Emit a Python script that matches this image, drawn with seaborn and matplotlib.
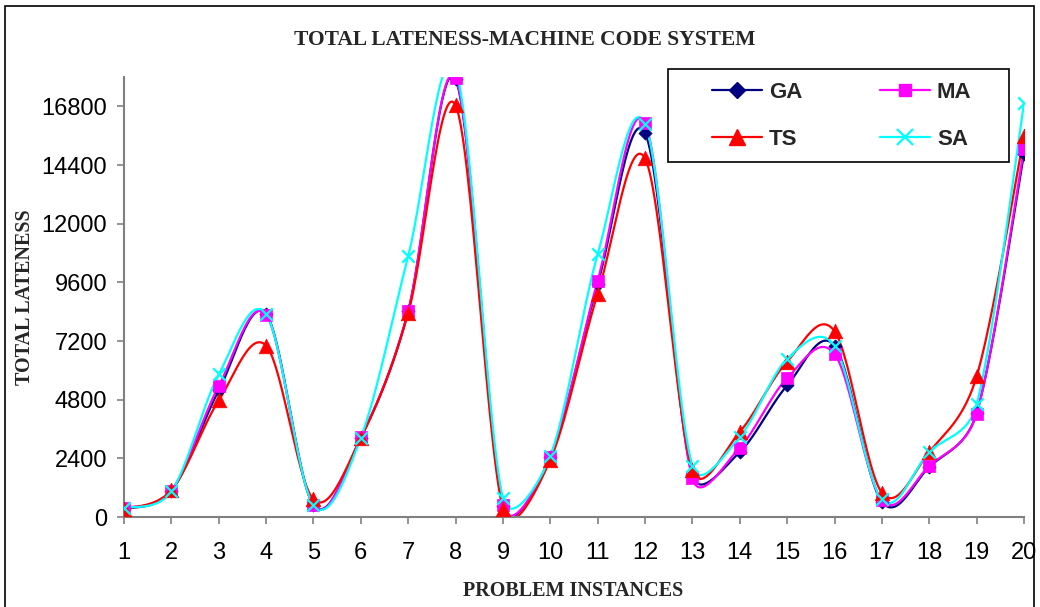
import numpy as np
import pandas as pd
import matplotlib
matplotlib.use("Agg")
import matplotlib.pyplot as plt
from matplotlib.lines import Line2D
from matplotlib.patches import Rectangle
import seaborn as sns

# ---------------- data ----------------
instances = list(range(1, 21))
ga = [330, 1060, 5180, 8300, 500, 3250, 8420, 17900, 450, 2460,
      9540, 15710, 1700, 2660, 5380, 7010, 620, 2050, 4250, 14840]
ma = [370, 1080, 5360, 8280, 480, 3260, 8440, 17950, 490, 2470,
      9670, 16120, 1580, 2840, 5680, 6670, 690, 2090, 4230, 15040]
ts = [330, 1100, 4770, 7010, 720, 3230, 8350, 16840, 330, 2340,
      9130, 14670, 1920, 3480, 6360, 7600, 990, 2660, 5750, 15580]
sa = [370, 1050, 5830, 8300, 490, 3250, 10680, 18300, 770, 2490,
      10750, 16080, 2090, 3280, 6470, 7000, 720, 2660, 4610, 16940]

series_names = ["GA", "MA", "TS", "SA"]
series_vals = [ga, ma, ts, sa]
colors = ["#000080", "#FF00FF", "#FF0000", "#00FFFF"]
markers = ["D", "s", "^", "x"]
msizes = [45, 70, 110, 80]

yticks = [0, 2400, 4800, 7200, 9600, 12000, 14400, 16800]

# plot-area geometry (pixels) used only for the smoothing metric
AX_L, AX_R, AX_T, AX_B = 124, 1024, 77, 517
XMIN, XMAX, YMIN, YMAX = 1, 20, 0, 18000
SX = (AX_R - AX_L) / (XMAX - XMIN)
SY = (AX_B - AX_T) / (YMAX - YMIN)


def smooth(xs, ys, n=30):
    """Excel-like smoothed line: cubic Bezier segments, tangent arm = chord/6,
    capped at half the segment length, computed in screen space."""
    P = np.column_stack([np.asarray(xs, float) * SX, np.asarray(ys, float) * SY])
    P = np.vstack([P[0], P, P[-1]])
    out = []
    t = np.linspace(0, 1, n)[:, None]

    def arm(a, b, seglen):
        v = (b - a) / 6.0
        L = np.linalg.norm(v)
        cap = seglen / 2.0
        if L > cap and L > 0:
            v = v * cap / L
        return v

    for i in range(1, len(P) - 2):
        p0, p1, p2, p3 = P[i - 1], P[i], P[i + 1], P[i + 2]
        l12 = np.linalg.norm(p2 - p1)
        c1 = p1 + arm(p0, p2, l12)
        c2 = p2 - arm(p1, p3, l12)
        seg = ((1 - t) ** 3) * p1 + 3 * ((1 - t) ** 2) * t * c1 + 3 * (1 - t) * t ** 2 * c2 + t ** 3 * p2
        out.append(seg if i == 1 else seg[1:])
    out = np.vstack(out)
    return out[:, 0] / SX, out[:, 1] / SY


sns.set_theme(style="white")
plt.rcParams["font.family"] = ["Liberation Sans", "DejaVu Sans"]

fig = plt.figure(figsize=(10.4, 6.07), dpi=100)
ax = fig.add_axes([AX_L / 1040, 1 - AX_B / 607, (AX_R - AX_L) / 1040, (AX_B - AX_T) / 607])

for name, vals, col, mk, ms in zip(series_names, series_vals, colors, markers, msizes):
    sx, sy = smooth(instances, vals)
    df_s = pd.DataFrame({"x": sx, "y": sy})
    sns.lineplot(data=df_s, x="x", y="y", color=col, linewidth=1.6,
                 sort=False, estimator=None, ax=ax)
    df_p = pd.DataFrame({"x": instances, "y": vals})
    if mk == "x":
        sns.scatterplot(data=df_p, x="x", y="y", color=col, marker=mk, s=ms,
                        linewidth=1.6, ax=ax, zorder=3)
    else:
        sns.scatterplot(data=df_p, x="x", y="y", color=col, marker=mk, s=ms,
                        edgecolor=col, linewidth=0.5, ax=ax, zorder=3)

ax.set_xlim(XMIN, XMAX)
ax.set_ylim(YMIN, YMAX)
ax.set_xticks(instances)
ax.set_xticklabels([str(i) for i in instances])
ax.set_yticks(yticks)
ax.set_yticklabels([str(v) for v in yticks])
ax.set_xlabel("")
ax.set_ylabel("")

for side in ["top", "right"]:
    ax.spines[side].set_visible(False)
for side in ["left", "bottom"]:
    ax.spines[side].set_color("#808080")
    ax.spines[side].set_linewidth(1.5)

ax.tick_params(axis="both", which="major", direction="out", length=5, width=1.2,
               color="#808080", labelsize=17, labelcolor="black")
ax.tick_params(axis="y", pad=7, left=True)
ax.tick_params(axis="x", pad=13, bottom=True)
ax.grid(False)

serif = ["Liberation Serif", "DejaVu Serif"]
fig.text(525 / 1040, 1 - 40 / 607, "TOTAL LATENESS-MACHINE CODE SYSTEM", ha="center", va="center",
         fontsize=15.5, fontweight="bold", family=serif)
fig.text(573 / 1040, 1 - 591 / 607, "PROBLEM INSTANCES", ha="center", va="center",
         fontsize=14.5, fontweight="bold", family=serif)
fig.text(25 / 1040, 1 - 297 / 607, "TOTAL LATENESS", ha="center", va="center",
         rotation=90, fontsize=14.5, fontweight="bold", family=serif)

# legend frame
fig.patches.append(Rectangle((668 / 1040, 1 - 162 / 607), 341 / 1040, 93 / 607,
                             transform=fig.transFigure, fill=True, facecolor="white",
                             edgecolor="black", linewidth=1.2, zorder=5))
handles = []
for name, col, mk in zip(series_names, colors, markers):
    if mk == "x":
        h = Line2D([0], [0], color=col, marker=mk, markersize=11, markeredgewidth=1.6, linewidth=1.6)
    else:
        msz = {"D": 8, "s": 9, "^": 11}[mk]
        h = Line2D([0], [0], color=col, marker=mk, markersize=msz, markerfacecolor=col,
                   markeredgecolor=col, linewidth=1.6)
    handles.append(h)
order = [0, 2, 1, 3]
leg = fig.legend([handles[i] for i in order], [series_names[i] for i in order],
                 ncol=2, frameon=False, loc="center",
                 bbox_to_anchor=(842 / 1040, 1 - 116 / 607),
                 prop={"family": ["Liberation Sans"], "weight": "bold", "size": 16},
                 handlelength=2.25, handletextpad=0.3, columnspacing=3.5, labelspacing=1.15)
leg.set_zorder(6)

# outer border
fig.patches.append(Rectangle((5 / 1040, -0.02), 1029 / 1040, 1 - 6 / 607 + 0.02,
                             transform=fig.transFigure, fill=False, edgecolor="black",
                             linewidth=1.2, zorder=0))

fig.savefig("out.png", dpi=100)
